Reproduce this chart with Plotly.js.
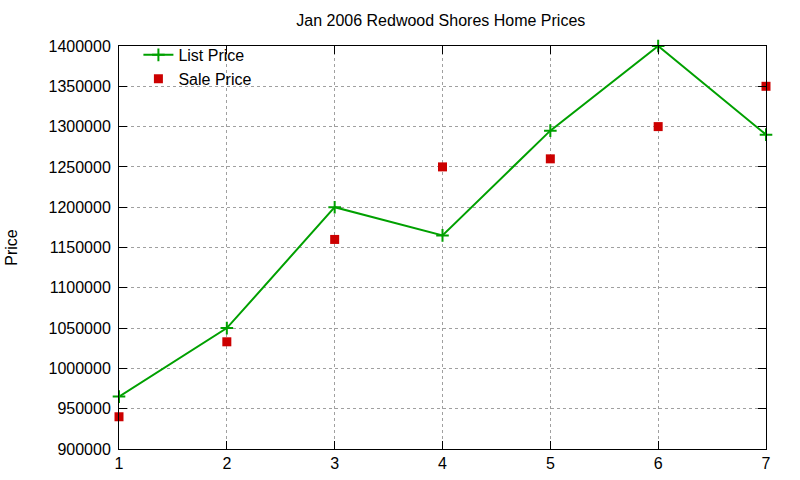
<!DOCTYPE html>
<html>
<head>
<meta charset="utf-8">
<script src="https://cdn.plot.ly/plotly-3.0.1.min.js"></script>
<style>
  html, body { margin: 0; padding: 0; background: #fff; }
  #chart { width: 800px; height: 480px; }
</style>
</head>
<body>
<div id="chart"></div>
<script>
// Jan 2006 Redwood Shores home prices
const homes = [1, 2, 3, 4, 5, 6, 7];
const listPrice = [965000, 1050000, 1200000, 1165000, 1295000, 1400000, 1290000];
const salePrice = [940000, 1033000, 1160000, 1250000, 1260000, 1300000, 1350000];
const priceTicks = [900000, 950000, 1000000, 1050000, 1100000, 1150000, 1200000, 1250000, 1300000, 1350000, 1400000];

const data = [
  {
    x: homes,
    y: listPrice,
    name: "List Price",
    type: "scatter",
    mode: "lines+markers",
    line: { color: "#00a000", width: 2 },
    marker: { symbol: "cross-thin", size: 9, line: { color: "#00a000", width: 2 } },
    cliponaxis: false,
  },
  {
    x: homes,
    y: salePrice,
    name: "Sale Price",
    type: "scatter",
    mode: "markers",
    marker: { symbol: "square", size: 9, color: "#cc0000" },
    cliponaxis: false,
  },
];

const layout = {
  width: 800,
  height: 480,
  margin: { l: 119, r: 34, t: 46, b: 31 },
  paper_bgcolor: "#fff",
  plot_bgcolor: "#fff",
  font: { family: "Liberation Sans, Arial, sans-serif", size: 16, color: "#000" },
  title: {
    text: "Jan 2006 Redwood Shores Home Prices",
    font: { size: 16 },
    x: 0.551,
    xanchor: "center",
    y: 0.958,
    yanchor: "middle",
  },
  showlegend: true,
  legend: {
    x: 0.03,
    y: 1.02,
    xanchor: "left",
    yanchor: "top",
    bgcolor: "rgba(0,0,0,0)",
    font: { size: 16 },
    tracegroupgap: 0,
  },
  xaxis: {
    range: [1, 7],
    tickvals: homes,
    ticks: "inside",
    ticklen: 8,
    tickcolor: "#000",
    showline: true,
    linecolor: "#000",
    linewidth: 1,
    mirror: "ticks",
    showgrid: true,
    gridcolor: "#a0a0a0",
    griddash: "dot",
    gridwidth: 1,
    zeroline: false,
    tickfont: { size: 16 },
  },
  yaxis: {
    range: [900000, 1400000],
    tickvals: priceTicks,
    tickformat: "d",
    ticks: "inside",
    ticklen: 8,
    tickcolor: "#000",
    ticklabelstandoff: 4,
    showline: true,
    linecolor: "#000",
    linewidth: 1,
    mirror: "ticks",
    showgrid: true,
    gridcolor: "#a0a0a0",
    griddash: "dot",
    gridwidth: 1,
    zeroline: false,
    tickfont: { size: 16 },
    title: { text: "Price", font: { size: 16 }, standoff: 26 },
  },
};

Plotly.newPlot("chart", data, layout, { displayModeBar: false });
</script>
</body>
</html>
